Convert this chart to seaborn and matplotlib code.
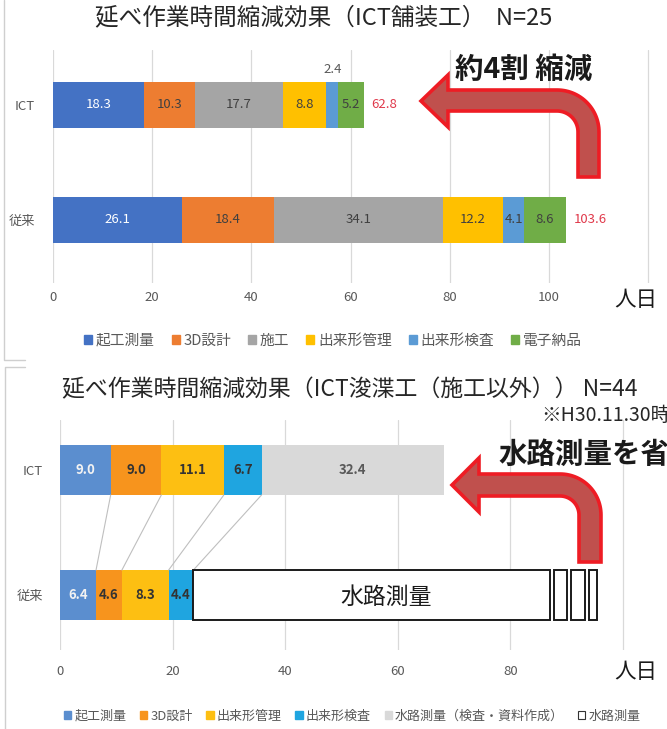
import matplotlib
matplotlib.use("Agg")
import numpy as np
import pandas as pd
import matplotlib.pyplot as plt
import seaborn as sns
from matplotlib.patches import Polygon, Patch

sns.set_theme(style="white")
plt.rcParams["font.family"] = ["Noto Sans CJK JP", "DejaVu Sans"]

W, H = 667, 729

# ---- 舗装工 ----
pave_rows = ["ICT", "従来"]
pave_steps = ["起工測量", "3D設計", "施工", "出来形管理", "出来形検査", "電子納品"]
pave_ict = [18.3, 10.3, 17.7, 8.8, 2.4, 5.2]
pave_conv = [26.1, 18.4, 34.1, 12.2, 4.1, 8.6]
pave_totals = [62.8, 103.6]
pave_colors = ["#4472C4", "#ED7D31", "#A5A5A5", "#FFC000", "#5B9BD5", "#70AD47"]
pave_text = ["white", "#404040", "#404040", "#404040", "#404040", "#404040"]
pave_ticks = [0, 20, 40, 60, 80, 100, 120]
pave_ticklabels = ["0", "20", "40", "60", "80", "100", ""]

# ---- 浚渫工 ----
dredge_rows = ["ICT", "従来"]
dredge_steps = ["起工測量", "3D設計", "出来形管理", "出来形検査", "水路測量（検査・資料作成）"]
dredge_ict = [9.0, 9.0, 11.1, 6.7, 32.4]
dredge_conv = [6.4, 4.6, 8.3, 4.4, 0.0]
dredge_colors = ["#5B8ECF", "#F7941D", "#FDBF12", "#1FA5E0", "#D9D9D9"]
dredge_text = ["#F2F2F2", "#333333", "#333333", "#333333", "#595959"]
dredge_ticks = [0, 20, 40, 60, 80, 100]
dredge_ticklabels = ["0", "20", "40", "60", "80", ""]
waterway_label = "水路測量"
waterway_conv = 63.3          # 従来 water-route survey, drawn up to the break
waterway_stubs = [2.4, 2.4, 1.4]
stub_gap = 0.7

GRAY = "#595959"
fig = plt.figure(figsize=(W / 100, H / 100), dpi=100)


def px_axes(left, top, right, bottom):
    return fig.add_axes([left / W, 1 - bottom / H, (right - left) / W, (bottom - top) / H])


def stacked_bars(ax, rows, values, colors, width):
    vals = np.array(values)
    cum = np.cumsum(vals, axis=1)
    # draw running totals from the longest down so each segment shows its own share
    for i in range(cum.shape[1] - 1, -1, -1):
        df = pd.DataFrame({"row": rows, "value": cum[:, i]})
        sns.barplot(data=df, x="value", y="row", order=rows, orient="h",
                    color=colors[i], saturation=1, width=width, linewidth=0,
                    errorbar=None, ax=ax)
    return vals, cum


def style_axes(ax, xmax, tick_list, tick_labels, pad_x, pad_y):
    ax.set_xlim(0, xmax)
    ax.set_xticks(tick_list)
    ax.set_xticklabels(tick_labels)
    ax.xaxis.grid(True, color="#D9D9D9", linewidth=0.9)
    ax.yaxis.grid(False)
    ax.set_axisbelow(True)
    for s in ax.spines.values():
        s.set_visible(False)
    ax.set_xlabel("")
    ax.set_ylabel("")
    ax.tick_params(axis="x", length=0, pad=pad_x, labelsize=9.5, labelcolor=GRAY)
    ax.tick_params(axis="y", length=0, pad=pad_y, labelsize=9.5, labelcolor=GRAY)


# ---------------- top chart ----------------
ax1 = px_axes(53, 50, 53 + 121 * 4.96, 283)
vals1, cum1 = stacked_bars(ax1, pave_rows, [pave_ict, pave_conv], pave_colors, 0.4)
style_axes(ax1, 121, pave_ticks, pave_ticklabels, 6, 13)
ax1.set_ylim(1.548, -0.478)

for r in range(len(pave_rows)):
    for i, v in enumerate(vals1[r]):
        xc = cum1[r, i] - v / 2
        if v < 3:
            ax1.text(xc, r - 0.31, f"{v:.1f}", ha="center", va="center",
                     fontsize=9.5, color=GRAY)
        else:
            ax1.text(xc, r, f"{v:.1f}", ha="center", va="center",
                     fontsize=9.5, color=pave_text[i])
    ax1.annotate(f"{pave_totals[r]:.1f}", (cum1[r, -1], r), xytext=(5, 0),
                 textcoords="offset points", ha="left", va="center",
                 fontsize=9.5, color="#E0394B")

fig.legend(handles=[Patch(facecolor=c, edgecolor=c) for c in pave_colors],
           labels=pave_steps, loc="center", bbox_to_anchor=(333 / W, 1 - 341 / H),
           ncol=6, frameon=False, fontsize=10.6, labelcolor=GRAY,
           handlelength=0.55, handleheight=0.55, handletextpad=0.25, columnspacing=1.15)

# ---------------- bottom chart ----------------
ax2 = px_axes(60, 420, 60 + 107.5 * 5.63, 650)
vals2, cum2 = stacked_bars(ax2, dredge_rows, [dredge_ict, dredge_conv], dredge_colors, 0.4)
style_axes(ax2, 107.5, dredge_ticks, dredge_ticklabels, 11, 12)
ax2.set_ylim(1.44, -0.4)

for r in range(len(dredge_rows)):
    for i, v in enumerate(vals2[r]):
        if v <= 0:
            continue
        xc = cum2[r, i] - v / 2
        ax2.text(xc, r, f"{v:.1f}", ha="center", va="center", fontsize=9.5,
                 fontweight="bold", color=dredge_text[i])

# guide lines joining matching segment boundaries
for i in range(4):
    ax2.plot([cum2[0, i], cum2[1, i]], [0.2, 0.8], color="#BFBFBF", lw=0.8, zorder=1)

# 従来 water-route survey bar, drawn as an open box with a break
start = cum2[1, 3]
ax2.barh(1, waterway_conv, left=start, height=0.4, color="white",
         edgecolor="#1A1A1A", linewidth=1.4, zorder=3)
ax2.text(start + waterway_conv / 2 + 2.5, 1.02, waterway_label, ha="center", va="center",
         fontsize=16.5, color="#1A1A1A", zorder=4)
pos = start + waterway_conv + stub_gap
for w in waterway_stubs:
    ax2.barh(1, w, left=pos, height=0.4, color="white", edgecolor="#1A1A1A",
             linewidth=1.4, zorder=3)
    pos += w + stub_gap

leg_handles = [Patch(facecolor=c, edgecolor=c) for c in dredge_colors]
leg_handles.append(Patch(facecolor="white", edgecolor="#333333", linewidth=0.8))
fig.legend(handles=leg_handles, labels=dredge_steps + [waterway_label], loc="center",
           bbox_to_anchor=(352 / W, 1 - 716 / H), ncol=6, frameon=False,
           fontsize=9.4, labelcolor=GRAY, handlelength=0.55, handleheight=0.55,
           handletextpad=0.25, columnspacing=1.05)

# ---------------- overlay: titles, notes, arrows ----------------
ov = fig.add_axes([0, 0, 1, 1], zorder=10)
ov.set_xlim(0, W)
ov.set_ylim(H, 0)
ov.axis("off")
ov.patch.set_alpha(0)

# panel frames
ov.plot([4, 4, 25], [0, 360, 360], color="#CFCFCF", lw=1)
ov.plot([25, 5, 5], [367, 367, H], color="#CFCFCF", lw=1)

ov.text(95, 18, "延べ作業時間縮減効果（ICT舗装工）  N=25", ha="left", va="center",
        fontsize=17, color="#262626")
ov.text(62, 390, "延べ作業時間縮減効果（ICT浚渫工（施工以外）） N=44", ha="left",
        va="center", fontsize=16.5, color="#262626")
ov.text(541, 415, "※H30.11.30時点", ha="left", va="center", fontsize=14, color="#262626")

ov.text(636, 300, "人日", ha="center", va="center", fontsize=15.5, color="#1A1A1A")
ov.text(636, 672, "人日", ha="center", va="center", fontsize=15.5, color="#1A1A1A")

ov.text(455, 70, "約4割 縮減", ha="left", va="center", fontsize=20.5,
        fontweight="bold", color="#1A1A1A")
ov.text(498, 455, "水路測量を省略", ha="left", va="center", fontsize=20.5,
        fontweight="bold", color="#1A1A1A")


def bent_arrow(tip, head_x, head_half, shaft_top, thick, stem_right, stem_bottom, radius):
    tx, ty = tip
    cx, cy = stem_right - radius, shaft_top + radius
    r_in = radius - thick
    t = np.linspace(0, np.pi / 2, 30)
    pts = [(tx, ty), (head_x, ty - head_half), (head_x, shaft_top)]
    pts += [(cx + radius * np.sin(a), cy - radius * np.cos(a)) for a in t]
    pts += [(stem_right, stem_bottom), (stem_right - thick, stem_bottom)]
    pts += [(cx + r_in * np.sin(a), cy - r_in * np.cos(a)) for a in t[::-1]]
    pts += [(head_x, shaft_top + thick), (head_x, ty + head_half)]
    ov.add_patch(Polygon(pts, closed=True, facecolor="#C0504D", edgecolor="#EE1C24",
                         linewidth=2.6, joinstyle="miter"))


bent_arrow((421, 101), 448, 26, 90, 21, 599, 177, 42)
bent_arrow((452, 485), 479, 27, 474, 22, 601, 562, 41)

fig.savefig("out.png", dpi=100)
